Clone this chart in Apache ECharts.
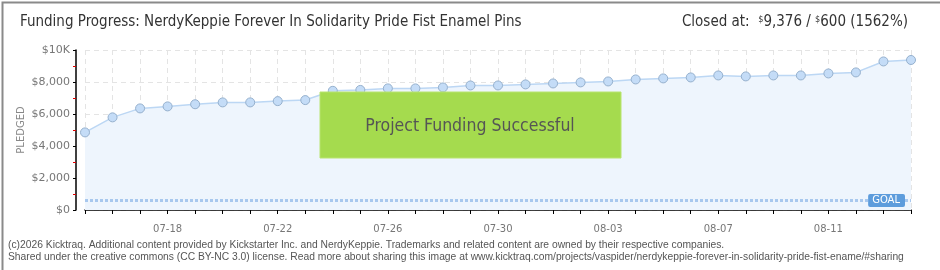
<!DOCTYPE html>
<html><head><meta charset="utf-8">
<script src="https://cdn.jsdelivr.net/npm/echarts@6/dist/echarts.min.js"></script>
<style>html,body{margin:0;padding:0;background:#fff}#c{width:940px;height:270px}</style>
</head><body><div id="c"></div>
<script>
const dates = ['07-15','07-16','07-17','07-18','07-19','07-20','07-21','07-22','07-23','07-24','07-25','07-26','07-27','07-28','07-29','07-30','07-31','08-01','08-02','08-03','08-04','08-05','08-06','08-07','08-08','08-09','08-10','08-11','08-12','08-13','08-14'];
const pledged = [4850,5790,6350,6475,6610,6725,6725,6805,6870,7450,7505,7600,7600,7660,7785,7785,7850,7910,7975,8035,8160,8225,8285,8410,8350,8410,8410,8535,8600,9285,9376];
const goal = 600;
const yTicks = {0:'$0',2000:'$2,000',4000:'$4,000',6000:'$6,000',8000:'$8,000',10000:'$10K'};
const titleText = 'Funding Progress: NerdyKeppie Forever In Solidarity Pride Fist Enamel Pins';
const footer1 = '(c)2026 Kicktraq. Additional content provided by Kickstarter Inc. and NerdyKeppie. Trademarks and related content are owned by their respective companies.';
const footer2 = 'Shared under the creative commons (CC BY-NC 3.0) license. Read more about sharing this image at www.kicktraq.com/projects/vaspider/nerdykeppie-forever-in-solidarity-pride-fist-ename/#sharing';

const chart = echarts.init(document.getElementById('c'), null, {renderer:'canvas'});
const narrow = '"Liberation Sans Narrow","DejaVu Sans Condensed","Liberation Sans",sans-serif';
chart.setOption({
  animation:false,
  grid:{left:85,right:29,top:50,bottom:60},
  xAxis:{
    type:'category', data:dates, boundaryGap:false, offset:10,
    axisLine:{lineStyle:{color:'#000',width:1.5}},
    axisTick:{interval:0,length:4,lineStyle:{color:'#000'}},
    axisLabel:{interval:(i)=> (i-3)%4===0, color:'#777', fontSize:10, margin:4, fontFamily:'"DejaVu Sans",sans-serif'},
    splitLine:{show:true,interval:0,lineStyle:{color:'#e4e4e4',type:[5,4]}}
  },
  yAxis:{
    type:'value', min:0, max:10000, interval:2000, offset:9,
    axisLine:{show:true,lineStyle:{color:'#000',width:1.5}},
    axisTick:{show:true,length:3,lineStyle:{color:'#000'}},
    minorTick:{show:true,splitNumber:2,length:3,lineStyle:{color:'#e00000'}},
    axisLabel:{formatter:(v)=>yTicks[v]||'', color:'#777', fontSize:11, margin:6, fontFamily:'"DejaVu Sans",sans-serif'},
    splitLine:{show:true,lineStyle:{color:'#e4e4e4',type:[5,4]}}
  },
  series:[{
    type:'line', data:pledged, symbol:'circle', symbolSize:9,
    lineStyle:{color:'#bcd7f4',width:1.5},
    itemStyle:{color:'#c4dcf7',borderColor:'#95b0cd',borderWidth:1},
    areaStyle:{color:'#eef5fd',opacity:1},
    markLine:{
      silent:true, symbol:'none',
      lineStyle:{color:'#a8c8ee',type:[3,2],width:3},
      label:{show:true,position:'insideEnd',formatter:'GOAL',color:'#fff',backgroundColor:'#5d9cdc',
        padding:[2,5,1,4],borderRadius:2,fontSize:10,fontFamily:'"DejaVu Sans",sans-serif',distance:6},
      data:[{yAxis:goal}]
    }
  }],
  graphic:[
    {type:'rect',left:0,top:0,shape:{x:0,y:0,width:939,height:269},style:{fill:'none',stroke:'#8a8a8a',lineWidth:2},z:100},
    {type:'text',x:21,y:130,rotation:Math.PI/2,style:{text:'PLEDGED',fontSize:10,fill:'#888',align:'center',verticalAlign:'middle',fontFamily:'"DejaVu Sans",sans-serif'}},
    {type:'text',left:20,top:15,style:{text:titleText,fontSize:15,fill:'#333',fontFamily:narrow}},
    {type:'text',right:32,top:15,style:{
      text:'Closed at:  {s|$}9,376 / {s|$}600 (1562%)',fontSize:15,fill:'#333',fontFamily:narrow,
      rich:{s:{fontSize:9,verticalAlign:'top',fill:'#333',fontFamily:narrow,padding:[0,0,6,0]}}}},
    {type:'rect',shape:{x:320,y:92,width:301,height:66},style:{fill:'#a5db4e',stroke:'#b8e46f',lineWidth:1},z:50},
    {type:'text',x:470,y:126,z:51,style:{text:'Project Funding Successful',fontSize:17.5,fill:'#555',
      fontFamily:narrow,align:'center',verticalAlign:'middle',textShadowColor:'#fff',textShadowOffsetX:1,textShadowOffsetY:1,textShadowBlur:0}},
    {type:'text',left:8,top:240,style:{text:footer1,fontSize:10.3,fill:'#555',fontFamily:'"Liberation Sans",sans-serif'}},
    {type:'text',left:8,top:252,style:{text:footer2,fontSize:10.3,fill:'#555',fontFamily:'"Liberation Sans",sans-serif'}}
  ]
});
</script></body></html>
